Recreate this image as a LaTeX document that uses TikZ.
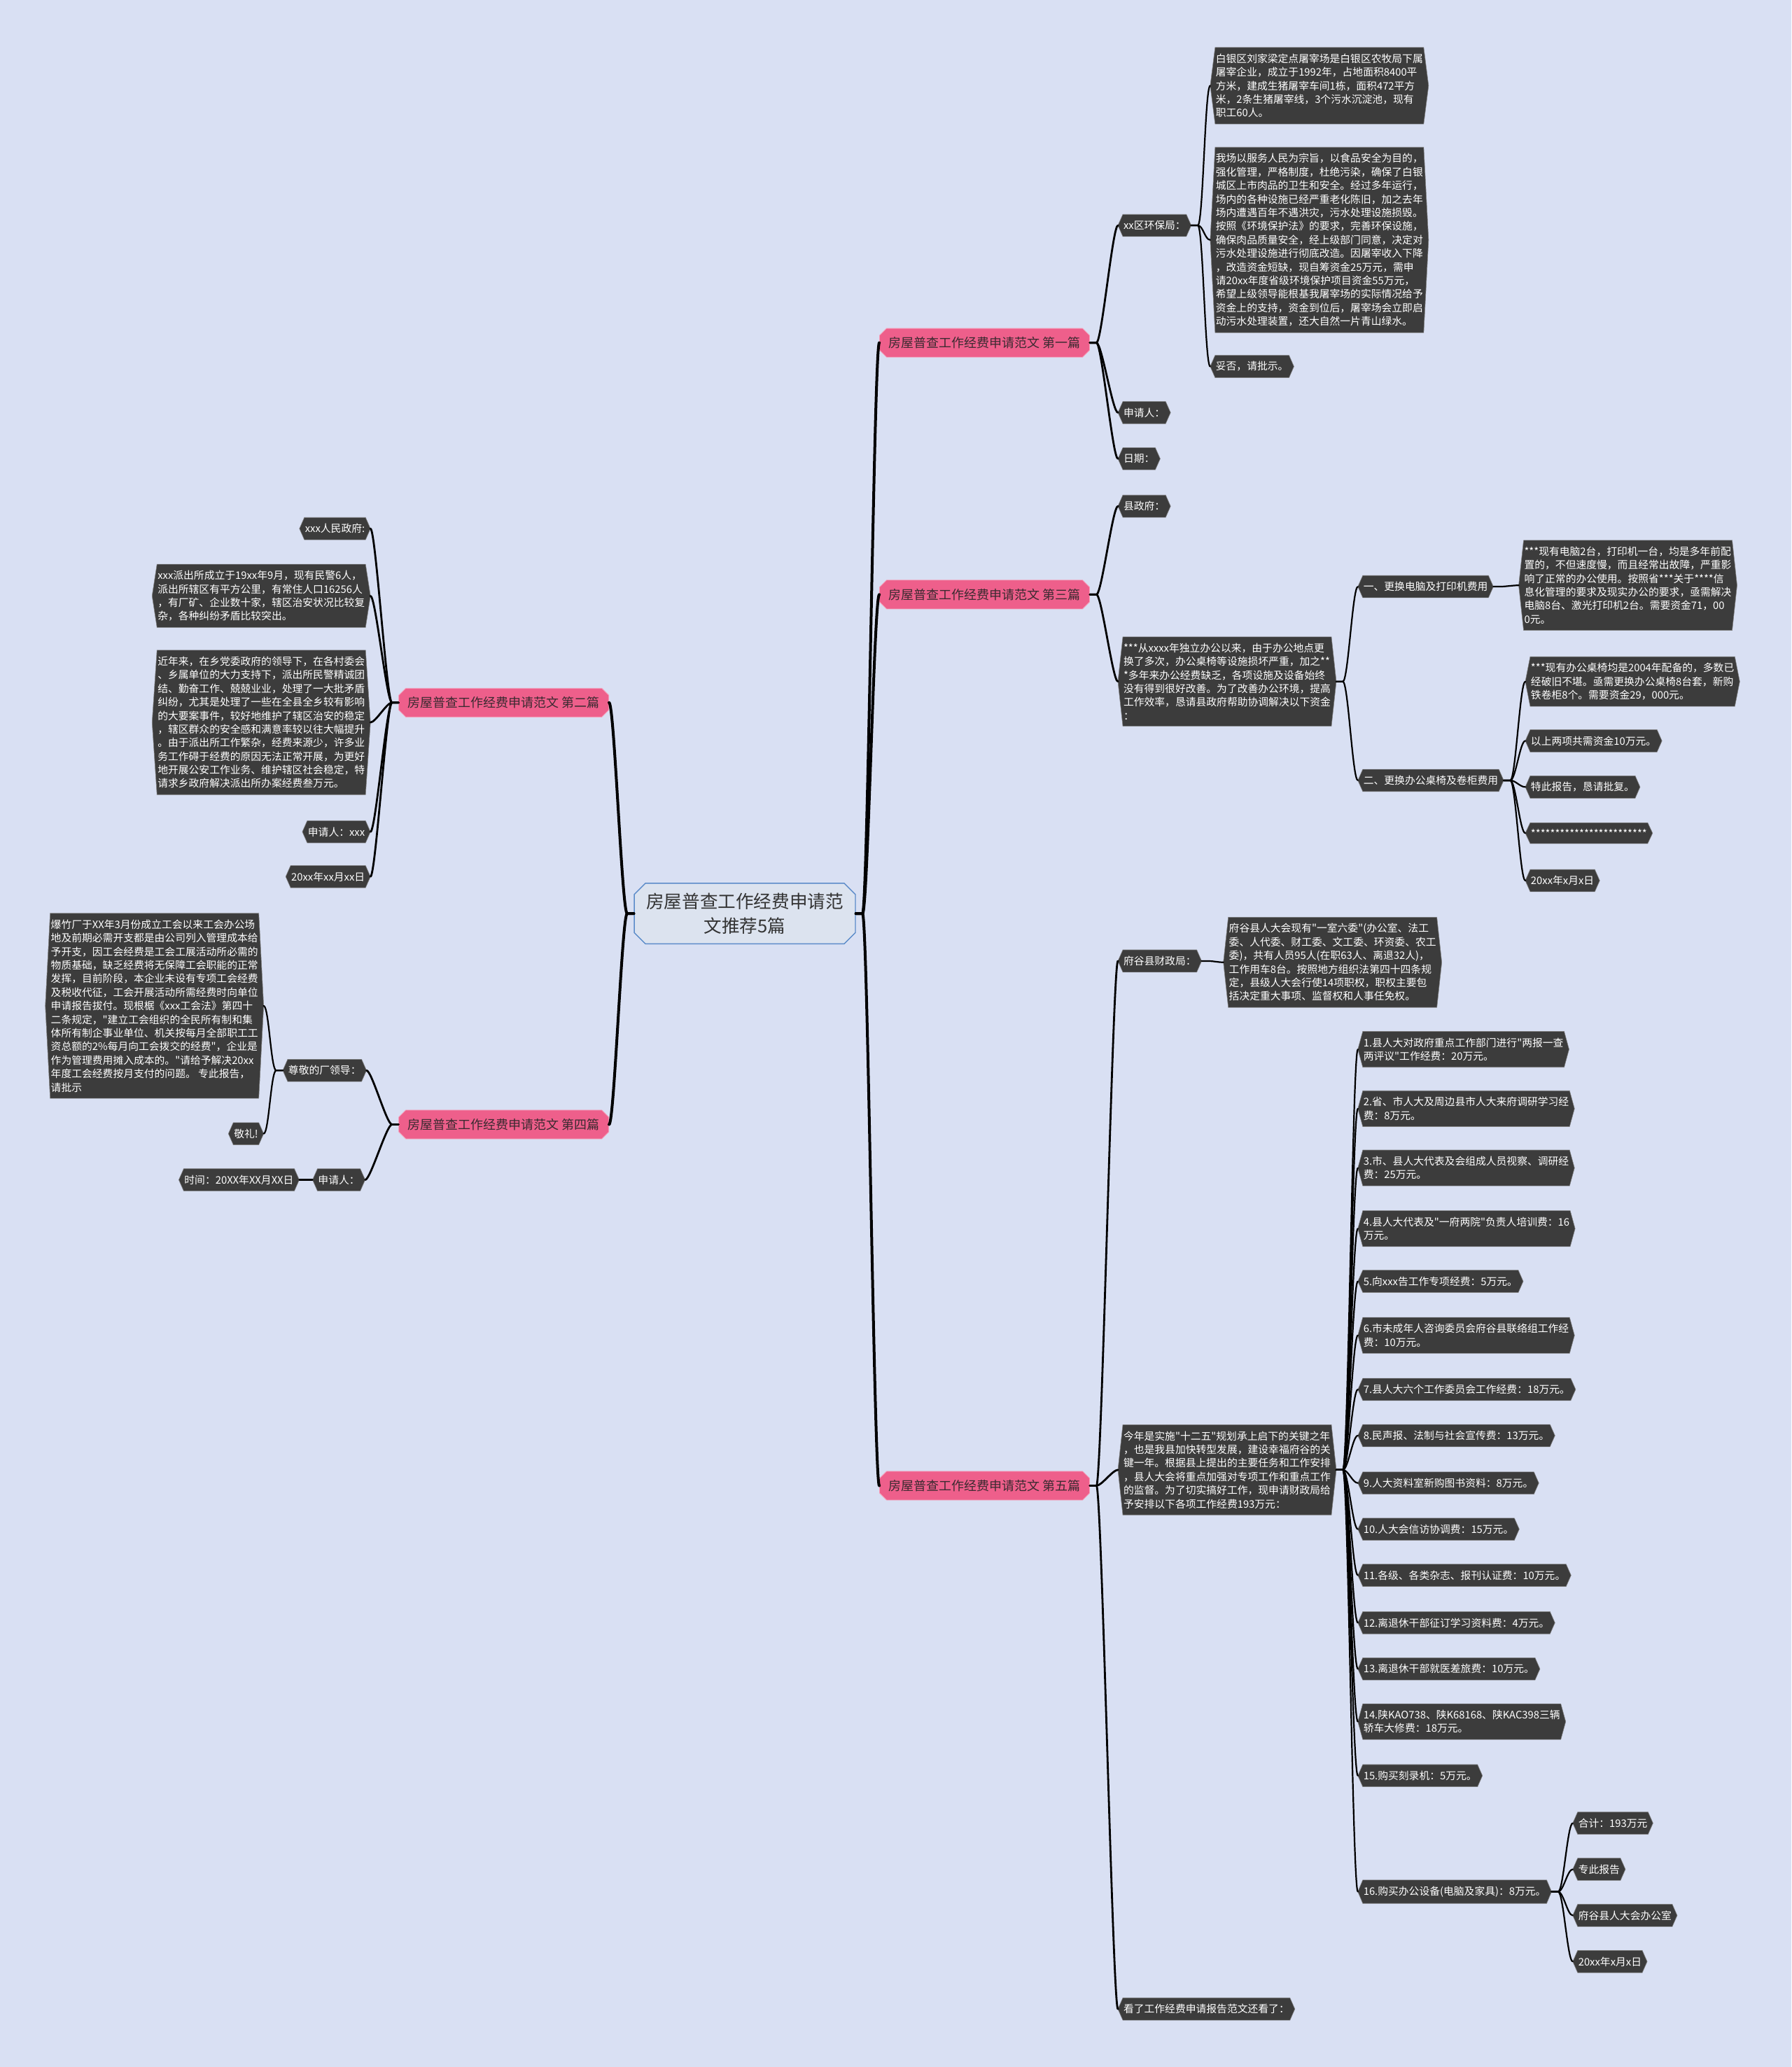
\documentclass[tikz,border=0pt]{standalone}
\usepackage{fontspec}
\setmainfont{Noto Sans CJK SC}[Ligatures=TeXOff]
\usetikzlibrary{shapes.misc}
\definecolor{bgc}{HTML}{D9E0F3}
\definecolor{dkc}{HTML}{3C3C3C}
\definecolor{pkc}{HTML}{EE5F8B}
\definecolor{pktext}{HTML}{3A2A30}
\definecolor{cfill}{HTML}{DCE3EF}
\definecolor{cline}{HTML}{5B8BC9}
\pgfdeclarelayer{bgl}
\pgfdeclarelayer{hexl}
\pgfsetlayers{bgl,hexl,main}
\newcommand\rc[3][1.1pt]{\draw[line width=#1,line cap=round] (#2.east) -- ++(5,0) .. controls +(4,0) and +(-4,0) .. (#3.west);}
\newcommand\lc[3][1.1pt]{\draw[line width=#1,line cap=round] (#2.west) -- ++(-5,0) .. controls +(-4,0) and +(4,0) .. (#3.east);}
\tikzset{
  dk/.style={font=\fontsize{7.4}{9.7}\selectfont, text=white, align=left, inner xsep=3.8pt, inner ysep=4.3pt},
  pk/.style={chamfered rectangle, chamfered rectangle xsep=2.5pt, chamfered rectangle ysep=2.5pt, fill=pkc, draw=pkc!60!white, line width=0.4pt, text=pktext, font=\fontsize{9}{11}\selectfont, inner xsep=4pt, inner ysep=3.6pt},
  ctr/.style={chamfered rectangle, chamfered rectangle xsep=4pt, chamfered rectangle ysep=4pt, fill=cfill, draw=cline, line width=0.7pt, text=black!80, font=\fontsize{12.8}{17.5}\selectfont, align=center, minimum width=158pt, minimum height=42pt, inner sep=3pt}
}
\begin{document}
\begin{tikzpicture}[x=0.94185pt,y=-0.94185pt]
\useasboundingbox (0,0) rectangle (1359,1568);
\begin{pgfonlayer}{bgl}
\fill[bgc] (0,0) rectangle (1359,1568);
\end{pgfonlayer}

% centre and main branches
\node[ctr] (c) at (565,693) {房屋普查工作经费申请范\\文推荐5篇};
\node[pk,anchor=west] (p1) at (667,260) {房屋普查工作经费申请范文 第一篇};
\node[pk,anchor=west] (p3) at (667,451) {房屋普查工作经费申请范文 第三篇};
\node[pk,anchor=west] (p5) at (667,1127) {房屋普查工作经费申请范文 第五篇};
\node[pk,anchor=east] (p2) at (462,533) {房屋普查工作经费申请范文 第二篇};
\node[pk,anchor=east] (p4) at (462,853) {房屋普查工作经费申请范文 第四篇};

% section 1
\node[dk,anchor=west] (a1) at (848,171) {xx区环保局：};
\node[dk,anchor=west] (a11) at (918,65) {白银区刘家梁定点屠宰场是白银区农牧局下属\\屠宰企业，成立于1992年，占地面积8400平\\方米，建成生猪屠宰车间1栋，面积472平方\\米，2条生猪屠宰线，3个污水沉淀池，现有\\职工60人。};
\node[dk,anchor=west] (a12) at (918,182) {我场以服务人民为宗旨，以食品安全为目的，\\强化管理，严格制度，杜绝污染，确保了白银\\城区上市肉品的卫生和安全。经过多年运行，\\场内的各种设施已经严重老化陈旧，加之去年\\场内遭遇百年不遇洪灾，污水处理设施损毁。\\按照《环境保护法》的要求，完善环保设施，\\确保肉品质量安全，经上级部门同意，决定对\\污水处理设施进行彻底改造。因屠宰收入下降\\，改造资金短缺，现自筹资金25万元，需申\\请20xx年度省级环境保护项目资金55万元，\\希望上级领导能根基我屠宰场的实际情况给予\\资金上的支持，资金到位后，屠宰场会立即启\\动污水处理装置，还大自然一片青山绿水。};
\node[dk,anchor=west] (a13) at (918,278) {妥否，请批示。};
\node[dk,anchor=west] (a2) at (848,313) {申请人：};
\node[dk,anchor=west] (a3) at (848,348) {日期：};

% section 3
\node[dk,anchor=west] (b1) at (848,384) {县政府：};
\node[dk,anchor=west] (b2) at (848,517) {***从xxxx年独立办公以来，由于办公地点更\\换了多次，办公桌椅等设施损坏严重，加之**\\*多年来办公经费缺乏，各项设施及设备始终\\没有得到很好改善。为了改善办公环境，提高\\工作效率，恳请县政府帮助协调解决以下资金\\：};
\node[dk,anchor=west] (b21) at (1030,445) {一、更换电脑及打印机费用};
\node[dk,anchor=west] (b211) at (1152,444) {***现有电脑2台，打印机一台，均是多年前配\\置的，不但速度慢，而且经常出故障，严重影\\响了正常的办公使用。按照省***关于****信\\息化管理的要求及现实办公的要求，亟需解决\\电脑8台、激光打印机2台。需要资金71，00\\0元。};
\node[dk,anchor=west] (b22) at (1030,592) {二、更换办公桌椅及卷柜费用};
\node[dk,anchor=west] (b221) at (1157,517) {***现有办公桌椅均是2004年配备的，多数已\\经破旧不堪。亟需更换办公桌椅8台套，新购\\铁卷柜8个。需要资金29，000元。};
\node[dk,anchor=west] (b222) at (1157,562) {以上两项共需资金10万元。};
\node[dk,anchor=west] (b223) at (1157,597) {特此报告，恳请批复。};
\node[dk,anchor=west] (b224) at (1157,632) {************************};
\node[dk,anchor=west] (b225) at (1157,668) {20xx年x月x日};

% section 5
\node[dk,anchor=west] (e1) at (848,729) {府谷县财政局：};
\node[dk,anchor=west] (e11) at (928,730) {府谷县人大会现有"一室六委"(办公室、法工\\委、人代委、财工委、文工委、环资委、农工\\委)，共有人员95人(在职63人、离退32人)，\\工作用车8台。按照地方组织法第四十四条规\\定，县级人大会行使14项职权，职权主要包\\括决定重大事项、监督权和人事任免权。};
\node[dk,anchor=west] (e2) at (848,1115) {今年是实施"十二五"规划承上启下的关键之年\\，也是我县加快转型发展，建设幸福府谷的关\\键一年。根据县上提出的主要任务和工作安排\\，县人大会将重点加强对专项工作和重点工作\\的监督。为了切实搞好工作，现申请财政局给\\予安排以下各项工作经费193万元：};
\node[dk,anchor=west] (i1) at (1030,796) {1.县人大对政府重点工作部门进行"两报一查\\两评议"工作经费：20万元。};
\node[dk,anchor=west] (i2) at (1030,841) {2.省、市人大及周边县市人大来府调研学习经\\费：8万元。};
\node[dk,anchor=west] (i3) at (1030,886) {3.市、县人大代表及会组成人员视察、调研经\\费：25万元。};
\node[dk,anchor=west] (i4) at (1030,932) {4.县人大代表及"一府两院"负责人培训费：16\\万元。};
\node[dk,anchor=west] (i5) at (1030,972) {5.向xxx告工作专项经费：5万元。};
\node[dk,anchor=west] (i6) at (1030,1013) {6.市未成年人咨询委员会府谷县联络组工作经\\费：10万元。};
\node[dk,anchor=west] (i7) at (1030,1054) {7.县人大六个工作委员会工作经费：18万元。};
\node[dk,anchor=west] (i8) at (1030,1089) {8.民声报、法制与社会宣传费：13万元。};
\node[dk,anchor=west] (i9) at (1030,1125) {9.人大资料室新购图书资料：8万元。};
\node[dk,anchor=west] (i10) at (1030,1160) {10.人大会信访协调费：15万元。};
\node[dk,anchor=west] (i11) at (1030,1195) {11.各级、各类杂志、报刊认证费：10万元。};
\node[dk,anchor=west] (i12) at (1030,1231) {12.离退休干部征订学习资料费：4万元。};
\node[dk,anchor=west] (i13) at (1030,1266) {13.离退休干部就医差旅费：10万元。};
\node[dk,anchor=west] (i14) at (1030,1306) {14.陕KAO738、陕K68168、陕KAC398三辆\\轿车大修费：18万元。};
\node[dk,anchor=west] (i15) at (1030,1347) {15.购买刻录机：5万元。};
\node[dk,anchor=west] (i16) at (1030,1435) {16.购买办公设备(电脑及家具)：8万元。};
\node[dk,anchor=west] (j1) at (1193,1383) {合计：193万元};
\node[dk,anchor=west] (j2) at (1193,1418) {专此报告};
\node[dk,anchor=west] (j3) at (1193,1453) {府谷县人大会办公室};
\node[dk,anchor=west] (j4) at (1193,1488) {20xx年x月x日};
\node[dk,anchor=west] (e3) at (848,1524) {看了工作经费申请报告范文还看了：};

% section 2
\node[dk,anchor=east] (s1) at (281,401) {xxx人民政府:};
\node[dk,anchor=east] (s2) at (281,452) {xxx派出所成立于19xx年9月，现有民警6人，\\派出所辖区有平方公里，有常住人口16256人\\，有厂矿、企业数十家，辖区治安状况比较复\\杂，各种纠纷矛盾比较突出。};
\node[dk,anchor=east] (s3) at (281,548) {近年来，在乡党委政府的领导下，在各村委会\\、乡属单位的大力支持下，派出所民警精诚团\\结、勤奋工作、兢兢业业，处理了一大批矛盾\\纠纷，尤其是处理了一些在全县全乡较有影响\\的大要案事件，较好地维护了辖区治安的稳定\\，辖区群众的安全感和满意率较以往大幅提升\\。由于派出所工作繁杂，经费来源少，许多业\\务工作碍于经费的原因无法正常开展，为更好\\地开展公安工作业务、维护辖区社会稳定，特\\请求乡政府解决派出所办案经费叁万元。};
\node[dk,anchor=east] (s4) at (281,631) {申请人：xxx};
\node[dk,anchor=east] (s5) at (281,665) {20xx年xx月xx日};

% section 4
\node[dk,anchor=east] (f1) at (278,812) {尊敬的厂领导：};
\node[dk,anchor=east] (f11) at (200,763) {爆竹厂于XX年3月份成立工会以来工会办公场\\地及前期必需开支都是由公司列入管理成本给\\予开支，因工会经费是工会工展活动所必需的\\物质基础，缺乏经费将无保障工会职能的正常\\发挥，目前阶段，本企业未设有专项工会经费\\及税收代征，工会开展活动所需经费时向单位\\申请报告拔付。现根椐《xxx工会法》第四十\\二条规定，"建立工会组织的全民所有制和集\\体所有制企事业单位、机关按每月全部职工工\\资总额的2\%每月向工会拨交的经费"，企业是\\作为管理费用摊入成本的。"请给予解决20xx\\年度工会经费按月支付的问题。 专此报告，\\请批示};
\node[dk,anchor=east] (f12) at (200,860) {敬礼!};
\node[dk,anchor=east] (f2) at (277,895) {申请人：};
\node[dk,anchor=east] (f21) at (227,895) {时间：20XX年XX月XX日};

% hexagon backgrounds of dark nodes
\begin{pgfonlayer}{hexl}
\foreach \n in {a1,a11,a12,a13,a2,a3,b1,b2,b21,b211,b22,b221,b222,b223,b224,b225,e1,e11,e2,i1,i2,i3,i4,i5,i6,i7,i8,i9,i10,i11,i12,i13,i14,i15,i16,j1,j2,j3,j4,e3,s1,s2,s3,s4,s5,f1,f11,f12,f2,f21}{
  \filldraw[fill=dkc,draw=dkc!65!white,line width=0.3pt] ([xshift=3.5pt]\n.north west) -- ([xshift=-3.5pt]\n.north east) -- (\n.east) -- ([xshift=-3.5pt]\n.south east) -- ([xshift=3.5pt]\n.south west) -- (\n.west) -- cycle;
}
\end{pgfonlayer}

% connectors
\rc[2pt]{c}{p1} \rc[2pt]{c}{p3} \rc[2pt]{c}{p5}
\lc[2pt]{c}{p2} \lc[2pt]{c}{p4}
\rc[1.4pt]{p1}{a1} \rc[1.4pt]{p1}{a2} \rc[1.4pt]{p1}{a3}
\rc{a1}{a11} \rc{a1}{a12} \rc{a1}{a13}
\rc[1.4pt]{p3}{b1} \rc[1.4pt]{p3}{b2}
\rc{b2}{b21} \rc{b2}{b22}
\rc{b21}{b211}
\rc{b22}{b221} \rc{b22}{b222} \rc{b22}{b223} \rc{b22}{b224} \rc{b22}{b225}
\rc[1.4pt]{p5}{e1} \rc[1.4pt]{p5}{e2} \rc[1.4pt]{p5}{e3}
\rc{e1}{e11}
\foreach \k in {1,...,16}{\rc{e2}{i\k}}
\foreach \k in {1,...,4}{\rc{i16}{j\k}}
\lc[1.4pt]{p2}{s1} \lc[1.4pt]{p2}{s2} \lc[1.4pt]{p2}{s3} \lc[1.4pt]{p2}{s4} \lc[1.4pt]{p2}{s5}
\lc[1.4pt]{p4}{f1} \lc[1.4pt]{p4}{f2}
\lc{f1}{f11} \lc{f1}{f12}
\lc{f2}{f21}
\end{tikzpicture}
\end{document}
